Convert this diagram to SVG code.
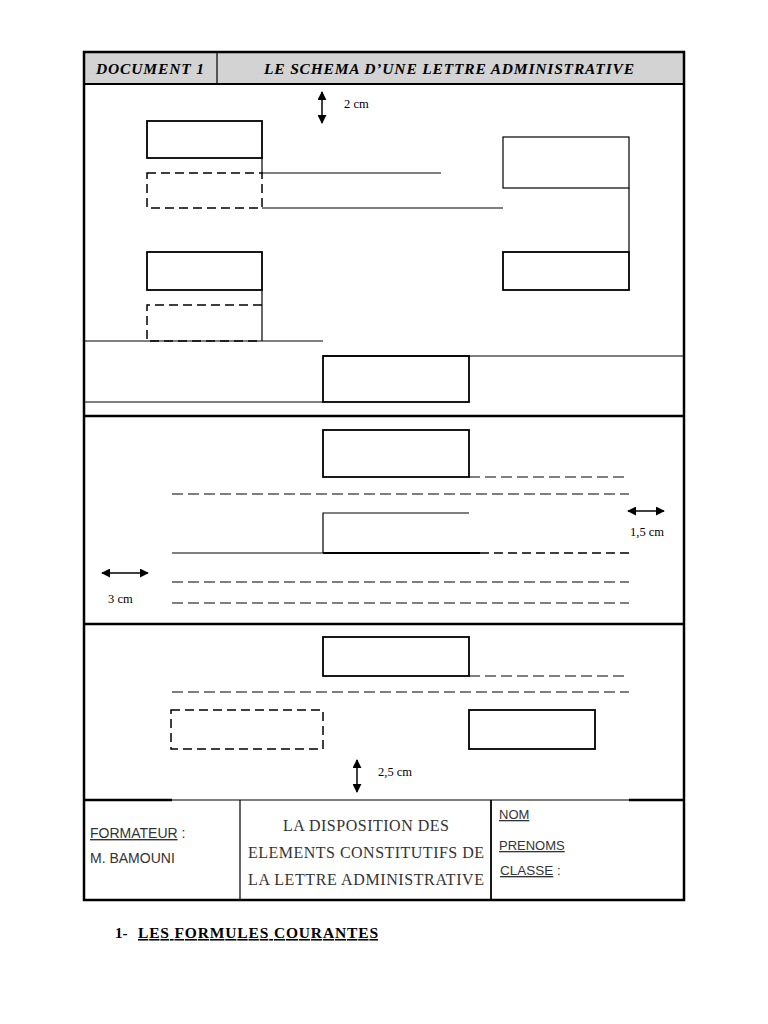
<svg xmlns="http://www.w3.org/2000/svg" width="768" height="1024" viewBox="0 0 768 1024">
<defs>
<marker id="ah" viewBox="0 0 10 10" refX="9" refY="5" markerWidth="6" markerHeight="6" orient="auto-start-reverse"><path d="M0,0 L10,5 L0,10 z" fill="#000"/></marker>
<style>
.s{fill:none;stroke:#000;stroke-width:1.2}
.sb{fill:none;stroke:#000;stroke-width:1.8}
.d{fill:none;stroke:#000;stroke-width:1.5;stroke-dasharray:9,5}
.dl{fill:none;stroke:#000;stroke-width:1.2;stroke-dasharray:11,5}
.fr{fill:none;stroke:#000;stroke-width:2.5}
.hd{font-family:"Liberation Serif",serif;font-weight:bold;font-style:italic;font-size:15.5px;fill:#000}
.ft{font-family:"Liberation Sans",sans-serif;font-size:14px;fill:#333}
.fc{font-family:"Liberation Serif",serif;font-size:16px;fill:#333}
.dim{font-family:"Liberation Serif",serif;font-size:12.5px;fill:#000}
.ar{stroke:#000;stroke-width:1.5;marker-start:url(#ah);marker-end:url(#ah)}
</style>
</defs>
<rect width="768" height="1024" fill="#fff"/>
<g id="frame">
<rect x="84" y="52" width="600" height="32" fill="#d3d3d3" stroke="none"/>
<rect x="84" y="52" width="600" height="848" class="fr"/>
<line x1="84" y1="84" x2="684" y2="84" class="sb"/>
<line x1="217" y1="52" x2="217" y2="84" class="s"/>
<line x1="84" y1="416" x2="684" y2="416" class="fr"/>
<line x1="84" y1="624" x2="684" y2="624" class="fr"/>
<line x1="84" y1="800" x2="172" y2="800" class="fr"/>
<line x1="172" y1="800" x2="629" y2="800" class="s"/>
<line x1="629" y1="800" x2="684" y2="800" class="fr"/>
<line x1="240" y1="800" x2="240" y2="900" class="s"/>
<line x1="491" y1="800" x2="491" y2="900" class="sb"/>
</g>
<g id="header">
<text x="150" y="74" text-anchor="middle" class="hd" textLength="108">DOCUMENT 1</text>
<text x="449" y="74" text-anchor="middle" class="hd" textLength="370">LE SCHEMA D’UNE LETTRE ADMINISTRATIVE</text>
</g>
<g id="section1">
<rect x="147" y="121" width="115" height="37" class="sb"/>
<rect x="147" y="173" width="115" height="35" class="d"/>
<line x1="262" y1="158" x2="262" y2="173" class="s"/>
<line x1="262" y1="173" x2="441" y2="173" class="s"/>
<line x1="262" y1="208" x2="503" y2="208" class="s"/>
<rect x="503" y="137" width="126" height="51" class="s"/>
<line x1="629" y1="188" x2="629" y2="252" class="s"/>
<rect x="503" y="252" width="126" height="38" class="sb"/>
<rect x="147" y="252" width="115" height="38" class="sb"/>
<line x1="262" y1="290" x2="262" y2="341" class="s"/>
<path d="M262,305 L147,305 L147,341 L262,341" class="d"/>
<line x1="84" y1="341" x2="323" y2="341" class="s"/>
<line x1="323" y1="356" x2="684" y2="356" class="s"/>
<rect x="323" y="356" width="146" height="46" class="sb"/>
<line x1="84" y1="402" x2="323" y2="402" class="s"/>
<line x1="322" y1="92" x2="322" y2="123" class="ar"/>
<text x="344" y="108" class="dim">2 cm</text>
</g>
<g id="section2">
<rect x="323" y="430" width="146" height="47" class="sb"/>
<line x1="469" y1="477" x2="629" y2="477" class="dl"/>
<line x1="172" y1="494" x2="629" y2="494" class="dl"/>
<path d="M469,513 L323,513 L323,553" class="s"/>
<line x1="172" y1="553" x2="323" y2="553" class="s"/>
<line x1="323" y1="553" x2="480" y2="553" class="sb"/>
<line x1="480" y1="553" x2="629" y2="553" class="d" stroke-width="2"/>
<line x1="172" y1="582" x2="629" y2="582" class="dl"/>
<line x1="172" y1="603" x2="629" y2="603" class="dl"/>
<line x1="628" y1="511" x2="664" y2="511" class="ar"/>
<text x="630" y="536" class="dim">1,5 cm</text>
<line x1="102" y1="573" x2="148" y2="573" class="ar"/>
<text x="108" y="603" class="dim">3 cm</text>
</g>
<g id="section3">
<rect x="323" y="637" width="146" height="39" class="sb"/>
<line x1="469" y1="676" x2="629" y2="676" class="dl"/>
<line x1="172" y1="692" x2="629" y2="692" class="dl"/>
<rect x="171" y="710" width="152" height="39" class="d" stroke-width="1.2"/>
<rect x="469" y="710" width="126" height="39" class="sb"/>
<line x1="357" y1="760" x2="357" y2="792" class="ar"/>
<text x="378" y="776" class="dim">2,5 cm</text>
</g>
<g id="footer">
<text x="90" y="838" class="ft"><tspan text-decoration="underline">FORMATEUR</tspan> :</text>
<text x="90" y="863" class="ft">M. BAMOUNI</text>
<text x="366" y="831" text-anchor="middle" class="fc" textLength="166">LA DISPOSITION DES</text>
<text x="366" y="858" text-anchor="middle" class="fc" textLength="236">ELEMENTS CONSTITUTIFS DE</text>
<text x="366" y="885" text-anchor="middle" class="fc" textLength="236">LA LETTRE ADMINISTRATIVE</text>
<text x="499" y="819" class="ft" style="font-size:13px" text-decoration="underline">NOM</text>
<text x="499" y="850" class="ft" style="font-size:13px" text-decoration="underline">PRENOMS</text>
<text x="500" y="875" class="ft" style="font-size:13.5px"><tspan text-decoration="underline">CLASSE</tspan> :</text>
</g>
<g id="title">
<text x="115" y="938" style="font-family:'Liberation Serif',serif;font-weight:bold;font-size:15px">1-</text>
<text x="138" y="938" style="font-family:'Liberation Serif',serif;font-weight:bold;font-size:15.5px" text-decoration="underline" textLength="240">LES FORMULES COURANTES</text>
</g>
</svg>
